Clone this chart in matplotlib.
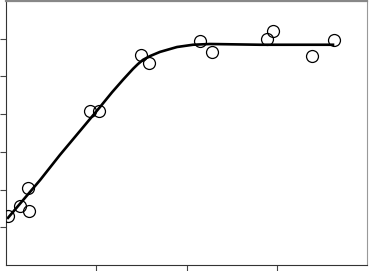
import matplotlib
matplotlib.use('Agg')
import matplotlib.pyplot as plt

# measured points
xpts = [0.022, 0.155, 0.244, 0.255, 0.931, 1.030, 1.496, 1.584,
        2.150, 2.283, 2.892, 2.958, 3.391, 3.634]
ypts = [1.30, 1.56, 2.04, 1.43, 4.08, 4.08, 5.57, 5.36,
        5.94, 5.65, 5.99, 6.21, 5.54, 5.97]

# fitted curve
xfit = [0.022, 0.377, 0.598, 1.042, 1.175, 1.296, 1.407, 1.463, 1.518,
        1.596, 1.706, 1.895, 2.072, 2.260, 2.814, 3.623]
yfit = [1.25, 2.25, 2.92, 4.19, 4.58, 4.91, 5.20, 5.33, 5.44,
        5.54, 5.65, 5.78, 5.84, 5.86, 5.84, 5.84]

fig = plt.figure(figsize=(3.69, 2.71), dpi=100)
ax = fig.add_axes([6 / 369, 6 / 271, 361 / 369, 264 / 271])

ax.plot(xfit, yfit, color='black', linewidth=1.9, zorder=2,
        solid_joinstyle='round')
ax.plot(xpts, ypts, 'o', markersize=8.6, markerfacecolor='none',
        markeredgecolor='black', markeredgewidth=0.9, zorder=3)

ax.set_xlim(0, 4)
ax.set_ylim(0, 7)
ax.set_xticks([1, 2, 3])
ax.set_yticks([1, 2, 3, 4, 5, 6])
ax.tick_params(direction='out', length=4, width=0.8, color='#444444',
               labelbottom=False, labelleft=False)

ax.spines['left'].set_color('#333333')
ax.spines['bottom'].set_color('#333333')
ax.spines['top'].set_color('#888888')
ax.spines['top'].set_linewidth(1.6)
ax.spines['right'].set_color('#999999')

fig.savefig('out.png', dpi=100)
